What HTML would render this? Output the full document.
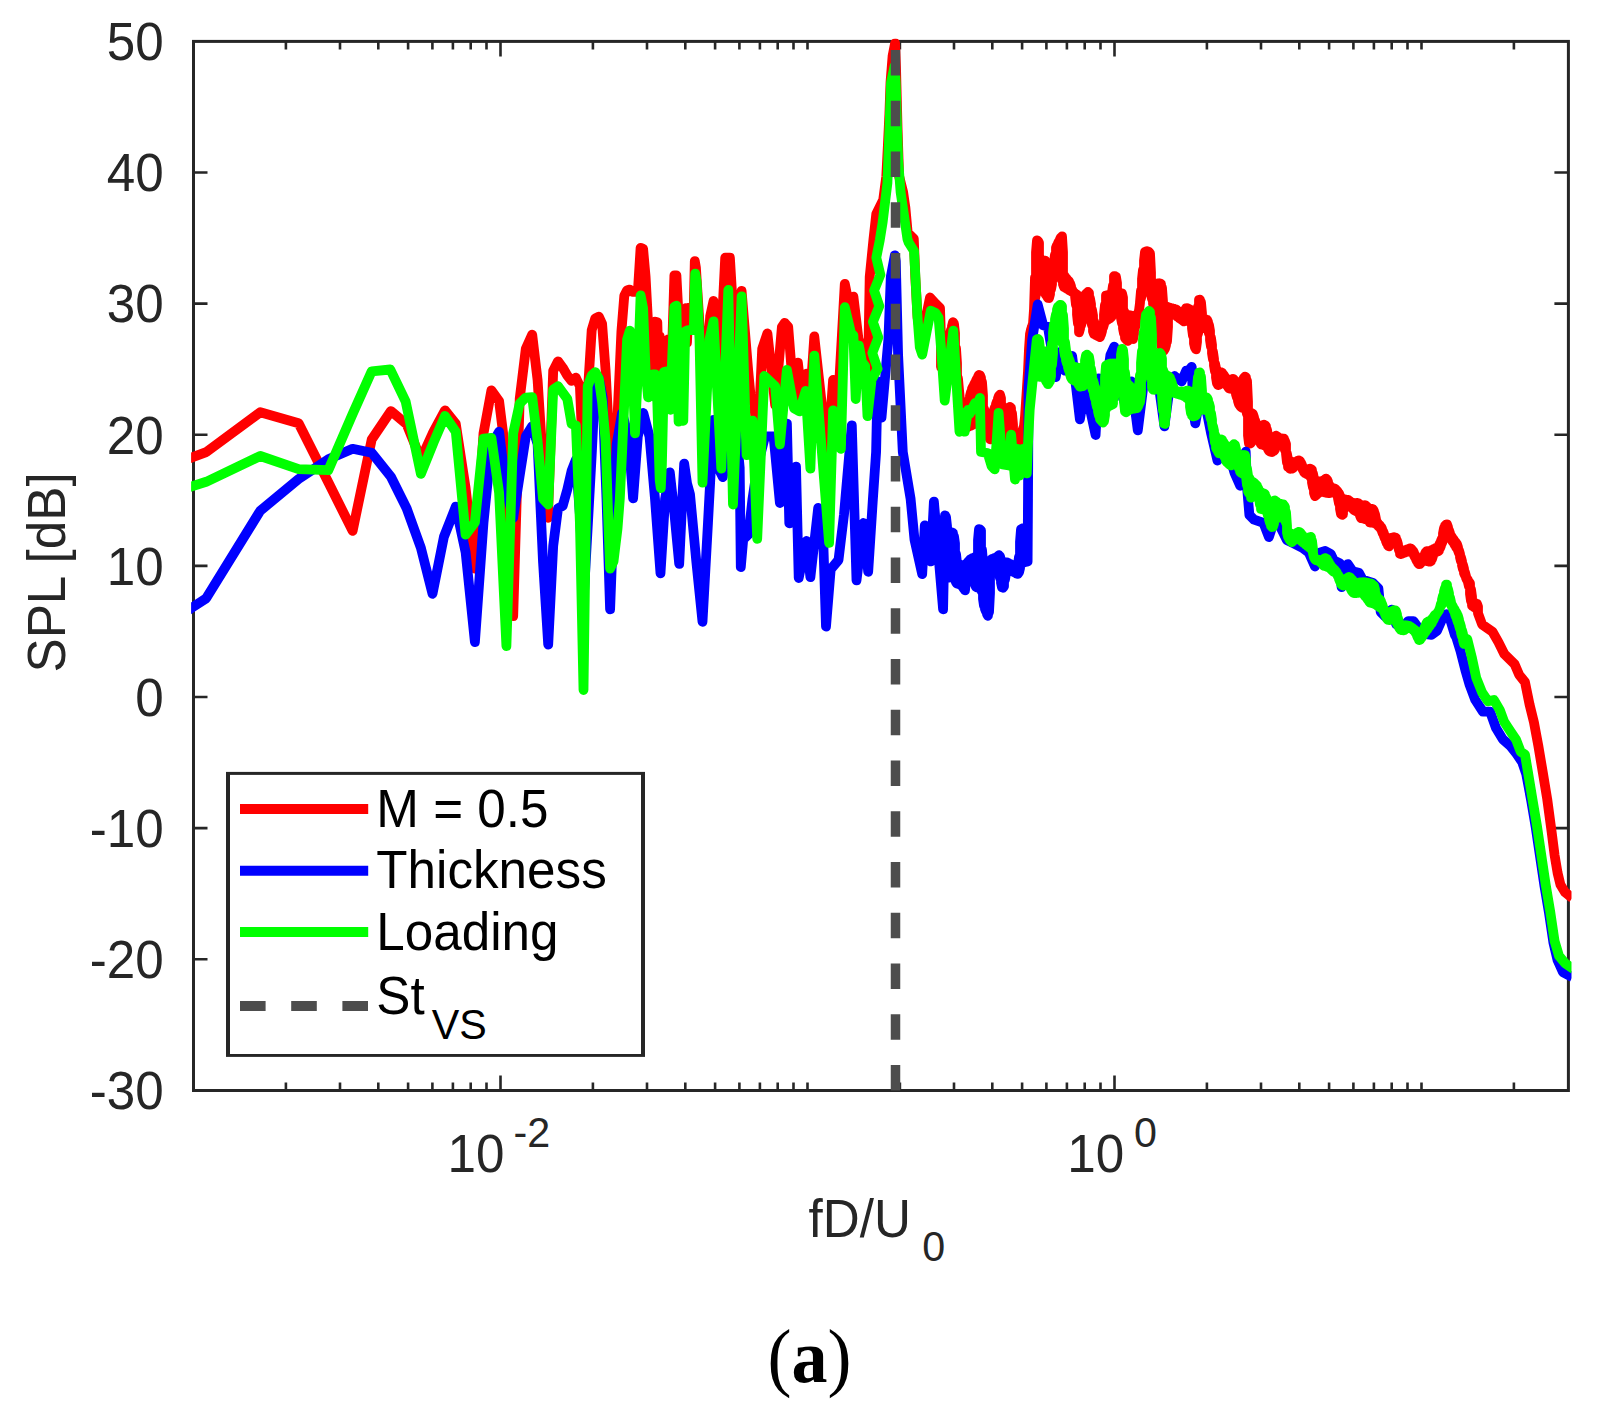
<!DOCTYPE html><html><head><meta charset="utf-8"><title>SPL spectrum</title>
<style>html,body{margin:0;padding:0;background:#fff}svg{display:block}text{font-family:"Liberation Sans",sans-serif}</style></head><body>
<svg width="1599" height="1420" viewBox="0 0 1599 1420">
<rect width="1599" height="1420" fill="#fff"/>
<clipPath id="c"><rect x="191.1" y="38.6" width="1380.4" height="1054.8999999999999"/></clipPath>
<path d="M285.9,1090.5 v-8 M285.9,41.4 v8 M340.0,1090.5 v-8 M340.0,41.4 v8 M378.3,1090.5 v-8 M378.3,41.4 v8 M408.1,1090.5 v-8 M408.1,41.4 v8 M432.4,1090.5 v-8 M432.4,41.4 v8 M452.9,1090.5 v-8 M452.9,41.4 v8 M470.7,1090.5 v-8 M470.7,41.4 v8 M486.5,1090.5 v-8 M486.5,41.4 v8 M500.5,1090.5 v-15 M500.5,41.4 v15 M592.9,1090.5 v-8 M592.9,41.4 v8 M647.0,1090.5 v-8 M647.0,41.4 v8 M685.3,1090.5 v-8 M685.3,41.4 v8 M715.1,1090.5 v-8 M715.1,41.4 v8 M739.4,1090.5 v-8 M739.4,41.4 v8 M759.9,1090.5 v-8 M759.9,41.4 v8 M777.7,1090.5 v-8 M777.7,41.4 v8 M793.5,1090.5 v-8 M793.5,41.4 v8 M807.5,1090.5 v-8 M807.5,41.4 v8 M899.9,1090.5 v-8 M899.9,41.4 v8 M954.0,1090.5 v-8 M954.0,41.4 v8 M992.3,1090.5 v-8 M992.3,41.4 v8 M1022.1,1090.5 v-8 M1022.1,41.4 v8 M1046.4,1090.5 v-8 M1046.4,41.4 v8 M1066.9,1090.5 v-8 M1066.9,41.4 v8 M1084.7,1090.5 v-8 M1084.7,41.4 v8 M1100.5,1090.5 v-8 M1100.5,41.4 v8 M1114.5,1090.5 v-15 M1114.5,41.4 v15 M1206.9,1090.5 v-8 M1206.9,41.4 v8 M1261.0,1090.5 v-8 M1261.0,41.4 v8 M1299.3,1090.5 v-8 M1299.3,41.4 v8 M1329.1,1090.5 v-8 M1329.1,41.4 v8 M1353.4,1090.5 v-8 M1353.4,41.4 v8 M1373.9,1090.5 v-8 M1373.9,41.4 v8 M1391.7,1090.5 v-8 M1391.7,41.4 v8 M1407.5,1090.5 v-8 M1407.5,41.4 v8 M1421.5,1090.5 v-8 M1421.5,41.4 v8 M1513.9,1090.5 v-8 M1513.9,41.4 v8 M193.5,959.3 h14 M1568.4,959.3 h-14 M193.5,828.1 h14 M1568.4,828.1 h-14 M193.5,697.0 h14 M1568.4,697.0 h-14 M193.5,565.9 h14 M1568.4,565.9 h-14 M193.5,434.7 h14 M1568.4,434.7 h-14 M193.5,303.6 h14 M1568.4,303.6 h-14 M193.5,172.5 h14 M1568.4,172.5 h-14" stroke="#262626" stroke-width="2.6" fill="none"/><rect x="193.5" y="41.4" width="1374.9" height="1049.1" fill="none" stroke="#262626" stroke-width="3"/>
<g clip-path="url(#c)" fill="none" stroke-width="9.8" stroke-linejoin="round" stroke-linecap="butt">
<path d="M113.4,486.6 L206.2,452.1 L260.3,412.2 L298.6,423.2 L328.3,482.3 L352.6,530.9 L371.7,439.6 L390.9,411.1 L406.7,424.3 L420.9,459.3 L433.4,431.9 L445.0,410.4 L455.8,423.9 L465.6,488.0 L474.9,568.6 L483.5,433.3 L491.4,390.4 L499.1,401.2 L506.4,459.8 L513.2,616.2 L519.7,398.9 L525.8,348.8 L532.2,334.6 L537.6,380.1 L543.0,464.5 L547.9,517.8 L553.2,370.7 L558.0,361.3 L562.7,367.6 L567.3,375.4 L571.6,380.9 L575.9,377.7 L579.9,386.3 L584.0,480.2 L587.7,394.2 L591.7,330.1 L595.3,318.3 L598.8,316.6 L602.1,323.8 L605.6,370.7 L608.9,433.3 L612.0,484.8 L615.3,464.5 L618.2,402.0 L621.4,331.6 L624.3,295.7 L627.1,290.2 L629.8,289.6 L632.6,291.8 L635.4,291.8 L637.9,291.0 L640.6,247.8 L643.1,248.8 L645.6,276.9 L648.1,323.8 L649.5,370.7 L650.8,330.1 L651.9,370.7 L652.8,323.8 L654.0,370.7 L655.1,321.6 L656.2,370.7 L657.3,322.2 L658.6,370.7 L659.7,336.3 L660.8,373.8 L661.9,342.6 L663.0,373.8 L664.0,343.2 L665.1,373.8 L666.2,342.6 L667.3,373.8 L668.3,339.4 L669.4,373.8 L670.3,342.6 L671.4,370.7 L672.3,342.6 L674.4,275.3 L676.4,275.3 L678.3,311.3 L680.2,314.4 L681.1,342.6 L682.0,311.3 L683.0,342.6 L683.9,309.6 L684.8,342.6 L685.8,308.2 L687.0,342.6 L688.3,308.2 L693.8,305.0 L694.8,261.1 L695.9,267.5 L699.5,323.8 L704.4,402.0 L710.2,316.0 L713.5,301.0 L720.0,362.9 L725.2,257.7 L729.9,257.7 L735.7,355.1 L741.6,290.8 L748.2,370.7 L751.0,400.4 L754.1,401.0 L757.5,448.9 L762.2,348.8 L767.4,333.3 L775.2,405.1 L781.9,326.9 L784.6,322.9 L788.2,326.9 L794.4,405.1 L797.9,362.7 L801.9,398.9 L806.5,373.7 L810.1,398.9 L814.3,336.5 L827.6,456.7 L833.1,379.9 L837.7,409.8 L844.8,283.8 L850.3,311.3 L853.4,296.6 L858.5,339.4 L862.0,346.3 L866.0,355.1 L867.8,386.3 L869.7,276.9 L873.5,238.9 L876.3,213.9 L883.2,199.8 L886.3,176.3 L887.9,145.1 L889.4,113.8 L890.5,82.5 L892.6,56.0 L895.1,43.3 L896.0,66.9 L897.6,129.4 L899.1,176.3 L903.1,192.0 L905.4,207.6 L907.7,232.6 L913.8,238.7 L915.3,276.9 L917.6,317.6 L921.4,339.4 L930.0,297.5 L935.5,303.5 L940.0,308.0 L941.0,338.4 L941.0,367.0 L942.0,367.5 L942.0,340.6 L943.0,341.5 L943.0,368.4 L944.0,370.9 L944.0,341.9 L945.0,342.0 L945.0,374.2 L946.0,375.2 L946.0,341.9 L947.0,341.5 L947.0,373.2 L948.0,371.2 L948.0,340.6 L949.0,337.8 L949.0,369.2 L950.0,367.9 L950.0,333.9 L951.0,330.0 L951.0,367.2 L952.0,367.0 L952.0,326.1 L953.0,322.2 L953.0,367.0 L954.0,367.2 L954.0,324.0 L955.0,333.2 L955.0,367.9 L956.0,369.2 L956.0,348.3 L957.0,363.4 L957.0,374.9 L958.0,380.6 L958.0,378.6 L959.0,390.0 L960.0,400.0 L961.0,403.6 L962.0,406.7 L963.0,409.7 L964.0,414.9 L964.0,410.2 L965.0,410.0 L965.0,420.6 L966.0,426.3 L966.0,409.3 L967.0,408.0 L967.0,427.4 L968.0,426.9 L968.0,404.0 L969.0,400.0 L969.0,426.4 L970.0,425.9 L970.0,396.0 L971.0,392.0 L971.0,425.5 L972.0,425.0 L972.0,388.7 L973.0,386.7 L973.0,424.5 L974.0,424.0 L974.0,384.7 L975.0,382.8 L975.0,423.5 L976.0,423.1 L976.0,380.8 L977.0,378.8 L977.0,422.6 L978.0,422.1 L978.0,376.8 L979.0,374.9 L979.0,421.8 L980.0,421.8 L980.0,375.4 L981.0,377.9 L981.0,422.1 L982.0,422.5 L982.0,382.1 L983.0,395.5 L983.0,423.4 L984.0,425.4 L984.0,408.8 L985.0,412.1 L985.0,427.7 L986.0,430.0 L986.0,413.0 L987.0,413.5 L987.0,432.3 L988.0,434.6 L988.0,413.6 L989.0,413.6 L989.0,437.0 L990.0,439.3 L990.0,413.6 L991.0,413.5 L991.0,439.3 L992.0,437.5 L992.0,413.0 L993.0,412.1 L993.0,435.6 L994.0,433.8 L994.0,409.9 L995.0,407.1 L995.0,432.0 L996.0,430.6 L996.0,404.2 L997.0,401.3 L997.0,430.0 L998.0,429.7 L998.0,398.4 L999.0,395.6 L999.0,429.7 L1000.0,430.0 L1000.0,394.7 L1001.0,398.4 L1001.0,430.5 L1002.0,431.4 L1002.0,405.4 L1003.0,407.3 L1003.0,432.6 L1004.0,433.9 L1004.0,408.1 L1005.0,408.6 L1005.0,435.1 L1006.0,436.4 L1006.0,408.7 L1007.0,408.6 L1007.0,437.6 L1008.0,438.9 L1008.0,408.1 L1009.0,407.6 L1009.0,440.1 L1010.0,441.4 L1010.0,407.0 L1011.0,407.7 L1011.0,442.6 L1012.0,443.9 L1012.0,413.3 L1013.0,424.6 L1013.0,445.1 L1014.0,446.4 L1014.0,434.7 L1015.0,436.1 L1015.0,447.3 L1016.0,448.2 L1016.0,436.7 L1017.0,437.0 L1017.0,449.1 L1018.0,446.4 L1018.0,437.1 L1019.0,437.1 L1019.0,441.4 L1020.0,436.7 L1021.0,434.2 L1022.0,431.7 L1023.0,428.9 L1024.0,426.0 L1025.0,416.9 L1026.0,401.9 L1027.0,386.9 L1028.0,371.3 L1029.0,348.8 L1030.0,334.0 L1031.0,329.6 L1032.0,326.7 L1033.0,323.5 L1034.0,309.4 L1035.0,277.5 L1035.0,298.9 L1036.0,293.9 L1036.0,252.5 L1037.0,240.3 L1037.0,290.5 L1038.0,289.6 L1038.0,240.8 L1039.0,242.9 L1039.0,289.2 L1040.0,289.1 L1040.0,258.1 L1041.0,259.5 L1041.0,289.2 L1042.0,289.6 L1042.0,260.1 L1043.0,260.4 L1043.0,290.4 L1044.0,291.7 L1044.0,260.6 L1045.0,260.7 L1045.0,293.2 L1046.0,294.8 L1046.0,262.1 L1047.0,263.9 L1047.0,296.3 L1048.0,297.9 L1048.0,264.8 L1049.0,265.3 L1049.0,298.0 L1050.0,294.2 L1050.0,265.4 L1051.0,265.3 L1051.0,289.2 L1052.0,284.2 L1052.0,264.8 L1053.0,263.9 L1053.0,279.2 L1054.0,275.9 L1054.0,261.6 L1055.0,254.6 L1055.0,275.0 L1056.0,274.4 L1056.0,247.6 L1057.0,245.3 L1057.0,274.1 L1058.0,274.1 L1058.0,243.3 L1059.0,241.3 L1059.0,274.4 L1060.0,275.0 L1060.0,239.3 L1061.0,237.3 L1061.0,276.4 L1062.0,280.4 L1062.0,236.4 L1063.0,252.2 L1063.0,284.4 L1064.0,287.1 L1064.0,275.3 L1065.0,276.8 L1065.0,287.7 L1066.0,288.2 L1066.0,277.9 L1067.0,279.1 L1067.0,288.8 L1068.0,289.4 L1068.0,280.2 L1069.0,281.3 L1069.0,290.0 L1070.0,290.5 L1070.0,283.3 L1071.0,286.3 L1071.0,291.1 L1072.0,291.7 L1072.0,289.3 L1073.0,291.7 L1073.0,292.2 L1074.0,293.1 L1074.0,292.6 L1075.0,293.3 L1075.0,295.8 L1076.0,305.1 L1076.0,294.1 L1077.0,294.8 L1077.0,314.4 L1078.0,323.8 L1078.0,295.5 L1079.0,296.2 L1079.0,332.3 L1080.0,328.9 L1080.0,296.8 L1081.0,297.1 L1081.0,325.4 L1082.0,321.9 L1082.0,297.1 L1083.0,296.8 L1083.0,317.9 L1084.0,315.4 L1084.0,296.2 L1085.0,295.1 L1085.0,314.5 L1086.0,314.1 L1086.0,294.0 L1087.0,292.8 L1087.0,314.0 L1088.0,314.1 L1088.0,291.9 L1089.0,292.9 L1089.0,314.5 L1090.0,315.4 L1090.0,298.5 L1091.0,304.2 L1091.0,319.3 L1092.0,325.3 L1092.0,309.9 L1093.0,315.7 L1093.0,331.3 L1094.0,334.0 L1094.0,321.4 L1095.0,324.6 L1095.0,334.5 L1096.0,335.0 L1096.0,325.5 L1097.0,326.0 L1097.0,335.5 L1098.0,336.0 L1098.0,326.5 L1099.0,326.6 L1099.0,336.5 L1100.0,337.0 L1100.0,326.5 L1101.0,326.3 L1101.0,334.6 L1102.0,331.2 L1102.0,325.6 L1103.0,324.3 L1103.0,327.7 L1104.0,324.3 L1104.0,314.5 L1105.0,304.8 L1105.0,321.7 L1106.0,320.7 L1106.0,295.6 L1107.0,295.4 L1107.0,320.0 L1108.0,319.5 L1108.0,295.1 L1109.0,294.9 L1109.0,318.9 L1110.0,318.3 L1110.0,294.6 L1111.0,293.9 L1111.0,317.5 L1112.0,315.8 L1112.0,292.5 L1113.0,285.4 L1113.0,314.0 L1114.0,312.7 L1114.0,276.1 L1115.0,276.1 L1115.0,312.0 L1116.0,311.7 L1116.0,277.0 L1117.0,283.1 L1117.0,311.7 L1118.0,312.0 L1118.0,290.9 L1119.0,292.3 L1119.0,312.7 L1120.0,314.0 L1120.0,292.9 L1121.0,293.2 L1121.0,318.0 L1122.0,323.2 L1122.0,293.4 L1123.0,297.7 L1123.0,328.3 L1124.0,333.5 L1124.0,311.2 L1125.0,313.6 L1125.0,337.9 L1126.0,339.2 L1126.0,314.5 L1127.0,315.0 L1127.0,340.4 L1128.0,340.9 L1128.0,315.1 L1129.0,315.1 L1129.0,339.7 L1130.0,339.1 L1130.0,315.3 L1131.0,315.5 L1131.0,338.8 L1132.0,338.8 L1132.0,315.8 L1133.0,316.1 L1133.0,339.1 L1134.0,334.1 L1134.0,316.4 L1135.0,316.5 L1135.0,327.7 L1136.0,321.6 L1136.0,316.4 L1137.0,316.0 L1137.0,316.9 L1138.0,313.7 L1139.0,310.6 L1140.0,302.9 L1140.0,302.1 L1141.0,290.6 L1141.0,298.3 L1142.0,293.6 L1142.0,279.1 L1143.0,269.9 L1143.0,290.0 L1144.0,288.7 L1144.0,260.9 L1145.0,251.9 L1145.0,288.0 L1146.0,287.8 L1146.0,251.4 L1147.0,251.1 L1147.0,287.8 L1148.0,288.0 L1148.0,251.4 L1149.0,252.0 L1149.0,288.7 L1150.0,290.0 L1150.0,253.4 L1151.0,272.4 L1151.0,294.5 L1152.0,299.0 L1152.0,282.4 L1153.0,283.3 L1153.0,303.5 L1154.0,308.0 L1154.0,283.7 L1155.0,283.8 L1155.0,312.4 L1156.0,316.9 L1156.0,283.7 L1157.0,283.6 L1157.0,321.3 L1158.0,325.8 L1158.0,283.4 L1159.0,283.3 L1159.0,330.2 L1160.0,334.7 L1160.0,283.3 L1161.0,283.8 L1161.0,341.2 L1162.0,347.9 L1162.0,287.9 L1163.0,301.4 L1163.0,350.0 L1164.0,350.6 L1164.0,305.1 L1165.0,306.0 L1165.0,348.7 L1166.0,345.1 L1166.0,306.5 L1167.0,306.8 L1167.0,341.5 L1168.0,326.9 L1168.0,307.1 L1169.0,307.5 L1169.0,316.3 L1170.0,314.9 L1170.0,307.8 L1171.0,308.1 L1171.0,314.3 L1172.0,314.0 L1172.0,308.3 L1173.0,308.6 L1173.0,314.0 L1174.0,314.3 L1174.0,308.8 L1175.0,309.1 L1175.0,314.9 L1176.0,315.6 L1176.0,309.4 L1177.0,310.2 L1177.0,316.4 L1178.0,317.1 L1178.0,311.0 L1179.0,311.8 L1179.0,317.8 L1180.0,318.6 L1180.0,312.4 L1181.0,312.7 L1181.0,319.3 L1182.0,320.0 L1182.0,312.7 L1183.0,312.4 L1183.0,320.7 L1184.0,321.4 L1184.0,311.9 L1186.0,308.3 L1186.0,320.9 L1187.0,320.9 L1187.0,308.1 L1188.0,308.5 L1188.0,321.0 L1189.0,321.2 L1189.0,308.9 L1190.0,309.6 L1190.0,321.9 L1191.0,323.2 L1191.0,310.6 L1192.0,311.5 L1192.0,328.4 L1193.0,335.9 L1193.0,311.9 L1194.0,312.0 L1194.0,343.4 L1195.0,347.7 L1195.0,311.9 L1196.0,311.5 L1196.0,349.3 L1197.0,341.8 L1197.0,310.6 L1198.0,306.8 L1198.0,333.5 L1199.0,329.4 L1199.0,299.8 L1200.0,299.7 L1200.0,328.5 L1201.0,328.1 L1201.0,302.5 L1202.0,313.5 L1202.0,328.0 L1203.0,328.0 L1203.0,317.7 L1204.0,318.6 L1204.0,328.0 L1205.0,328.0 L1205.0,319.1 L1206.0,319.4 L1206.0,328.1 L1207.0,328.5 L1207.0,319.7 L1208.0,321.8 L1208.0,329.4 L1209.0,333.5 L1209.0,325.1 L1210.0,330.9 L1210.0,340.1 L1211.0,346.7 L1211.0,337.9 L1212.0,344.9 L1212.0,353.3 L1213.0,359.5 L1213.0,351.9 L1214.0,358.9 L1214.0,365.5 L1215.0,371.5 L1215.0,363.6 L1216.0,368.3 L1216.0,377.5 L1217.0,383.5 L1217.0,370.8 L1218.0,371.7 L1218.0,385.0 L1219.0,384.7 L1219.0,372.2 L1220.0,372.3 L1220.0,384.0 L1221.0,383.3 L1221.0,372.3 L1222.0,372.6 L1222.0,382.8 L1223.0,382.7 L1223.0,374.0 L1224.0,375.4 L1224.0,382.8 L1225.0,383.3 L1225.0,376.9 L1226.0,378.3 L1226.0,384.2 L1227.0,385.6 L1227.0,379.2 L1228.0,379.7 L1228.0,387.0 L1229.0,388.4 L1229.0,380.0 L1230.0,380.0 L1230.0,388.6 L1231.0,388.8 L1231.0,379.7 L1232.0,379.3 L1232.0,389.0 L1233.0,389.2 L1233.0,378.8 L1234.0,379.5 L1234.0,389.9 L1235.0,391.2 L1235.0,380.9 L1236.0,382.1 L1236.0,394.3 L1237.0,397.7 L1237.0,382.8 L1238.0,383.0 L1238.0,401.1 L1239.0,404.4 L1239.0,383.0 L1240.0,382.8 L1240.0,405.7 L1241.0,407.0 L1241.0,382.1 L1242.0,381.1 L1242.0,407.9 L1243.0,407.8 L1243.0,379.4 L1244.0,377.7 L1244.0,407.9 L1245.0,408.3 L1245.0,376.6 L1246.0,377.4 L1246.0,409.2 L1247.0,413.9 L1247.0,380.8 L1248.0,401.8 L1248.0,435.4 L1249.0,443.6 L1249.0,411.5 L1250.0,412.4 L1250.0,443.7 L1251.0,442.9 L1251.0,412.9 L1252.0,413.3 L1252.0,441.2 L1253.0,439.8 L1253.0,414.2 L1254.0,417.2 L1254.0,439.1 L1255.0,438.7 L1255.0,420.2 L1256.0,423.2 L1256.0,438.6 L1257.0,438.7 L1257.0,424.6 L1258.0,425.5 L1258.0,439.2 L1259.0,440.0 L1259.0,426.0 L1260.0,426.1 L1260.0,442.1 L1261.0,444.3 L1261.0,426.0 L1262.0,425.6 L1262.0,444.6 L1263.0,444.9 L1263.0,425.1 L1264.0,424.6 L1264.0,445.2 L1265.0,445.5 L1265.0,425.1 L1266.0,426.2 L1266.0,446.1 L1267.0,447.3 L1267.0,429.9 L1268.0,435.6 L1268.0,449.0 L1269.0,450.8 L1269.0,437.0 L1270.0,437.6 L1270.0,451.6 L1271.0,451.9 L1271.0,437.9 L1272.0,437.9 L1272.0,452.0 L1273.0,451.4 L1273.0,437.6 L1274.0,437.0 L1274.0,450.8 L1275.0,449.4 L1275.0,436.4 L1276.0,435.7 L1276.0,446.7 L1277.0,444.5 L1277.0,436.3 L1278.0,437.0 L1278.0,443.6 L1279.0,443.2 L1279.0,437.7 L1280.0,438.3 L1280.0,443.0 L1281.0,443.2 L1281.0,438.6 L1282.0,438.7 L1282.0,443.6 L1283.0,444.5 L1283.0,438.6 L1284.0,438.6 L1284.0,446.7 L1285.0,450.0 L1285.0,441.1 L1286.0,444.0 L1286.0,453.8 L1287.0,462.8 L1287.0,454.0 L1288.0,459.9 L1288.0,467.0 L1290.0,461.0 L1290.0,468.8 L1291.0,468.7 L1291.0,461.5 L1292.0,462.0 L1292.0,468.6 L1293.0,468.1 L1293.0,462.4 L1294.0,462.5 L1294.0,466.9 L1295.0,465.7 L1295.0,462.4 L1296.0,462.0 L1296.0,465.1 L1297.0,464.8 L1297.0,461.3 L1298.0,460.6 L1298.0,464.6 L1299.0,464.8 L1299.0,460.4 L1300.0,461.1 L1300.0,465.2 L1301.0,466.1 L1301.0,462.9 L1302.0,465.1 L1302.0,468.0 L1303.0,470.0 L1303.0,467.3 L1304.0,468.6 L1304.0,472.0 L1305.0,473.2 L1305.0,469.3 L1306.0,469.5 L1306.0,473.6 L1307.0,474.1 L1307.0,469.5 L1308.0,469.3 L1308.0,474.5 L1309.0,475.0 L1309.0,468.9 L1310.0,468.6 L1310.0,475.9 L1311.0,478.0 L1311.0,469.1 L1312.0,469.9 L1312.0,482.5 L1313.0,487.6 L1313.0,473.7 L1314.0,479.0 L1314.0,493.0 L1315.0,496.1 L1315.0,480.4 L1316.0,481.0 L1316.0,495.4 L1317.0,494.4 L1317.0,481.3 L1318.0,481.3 L1318.0,493.4 L1319.0,492.6 L1319.0,481.3 L1320.0,481.3 L1320.0,492.1 L1321.0,491.8 L1321.0,481.3 L1322.0,481.2 L1322.0,491.8 L1323.0,492.0 L1323.0,480.8 L1324.0,480.2 L1324.0,492.2 L1325.0,492.4 L1325.0,479.4 L1326.0,478.6 L1326.0,492.7 L1327.0,492.9 L1327.0,479.4 L1328.0,481.5 L1328.0,493.1 L1329.0,493.1 L1329.0,484.5 L1330.0,486.8 L1330.0,493.0 L1331.0,492.8 L1331.0,487.7 L1332.0,488.1 L1332.0,492.7 L1333.0,492.6 L1333.0,488.4 L1334.0,488.6 L1334.0,492.6 L1335.0,492.8 L1335.0,488.7 L1336.0,489.4 L1336.0,493.5 L1337.0,494.8 L1337.0,490.7 L1338.0,492.1 L1338.0,498.4 L1339.0,503.6 L1339.0,493.4 L1340.0,495.8 L1340.0,508.8 L1341.0,514.0 L1341.0,497.8 L1342.0,498.7 L1342.0,514.9 L1343.0,514.2 L1343.0,499.2 L1344.0,499.3 L1344.0,509.2 L1345.0,506.6 L1345.0,499.5 L1346.0,499.6 L1346.0,505.7 L1347.0,505.3 L1347.0,499.8 L1348.0,499.9 L1348.0,505.1 L1349.0,505.3 L1349.0,500.6 L1350.0,501.2 L1350.0,505.7 L1351.0,506.6 L1351.0,501.9 L1352.0,502.6 L1352.0,507.9 L1353.0,509.1 L1353.0,503.0 L1354.0,503.2 L1354.0,510.0 L1355.0,510.5 L1355.0,503.2 L1356.0,503.1 L1356.0,511.0 L1357.0,511.5 L1357.0,503.0 L1358.0,503.1 L1358.0,512.1 L1359.0,513.5 L1359.0,503.8 L1360.0,504.5 L1360.0,515.7 L1361.0,518.1 L1361.0,505.1 L1362.0,505.4 L1362.0,518.3 L1363.0,518.5 L1363.0,505.5 L1364.0,505.4 L1364.0,518.7 L1365.0,519.0 L1365.0,505.2 L1366.0,505.7 L1366.0,519.2 L1367.0,519.6 L1367.0,506.7 L1368.0,507.7 L1368.0,520.4 L1369.0,521.4 L1369.0,508.3 L1370.0,508.6 L1370.0,522.4 L1371.0,522.6 L1371.0,508.8 L1372.0,508.9 L1372.0,522.7 L1373.0,522.8 L1373.0,509.1 L1374.0,511.1 L1374.0,523.0 L1375.0,523.3 L1375.0,514.1 L1376.0,519.1 L1376.0,523.9 L1377.0,524.7 L1377.0,522.1 L1378.0,523.3 L1378.0,525.7 L1379.0,526.7 L1379.0,524.5 L1380.0,525.6 L1380.0,527.7 L1381.0,529.1 L1381.0,526.8 L1382.0,528.8 L1382.0,531.4 L1383.0,533.9 L1383.0,531.2 L1384.0,533.6 L1384.0,536.3 L1385.0,538.8 L1385.0,536.0 L1386.0,537.4 L1386.0,541.2 L1387.0,543.7 L1387.0,538.0 L1388.0,538.3 L1388.0,545.8 L1389.0,546.4 L1389.0,538.3 L1390.0,538.1 L1390.0,544.8 L1391.0,542.4 L1391.0,537.9 L1392.0,537.6 L1392.0,541.5 L1393.0,541.1 L1393.0,537.4 L1394.0,537.1 L1394.0,541.0 L1395.0,541.1 L1395.0,537.4 L1396.0,537.9 L1396.0,541.5 L1397.0,542.4 L1397.0,540.7 L1398.0,544.4 L1398.0,545.6 L1399.0,550.3 L1399.0,548.2 L1400.0,549.6 L1400.0,553.7 L1401.0,554.0 L1401.0,550.2 L1402.0,550.6 L1402.0,553.6 L1403.0,553.2 L1403.0,550.8 L1404.0,550.6 L1404.0,552.8 L1405.0,552.5 L1405.0,550.3 L1406.0,549.9 L1406.0,552.1 L1407.0,551.8 L1407.0,549.5 L1408.0,549.2 L1408.0,551.5 L1409.0,551.2 L1409.0,548.8 L1410.0,548.4 L1410.0,551.2 L1411.0,551.5 L1411.0,548.7 L1412.0,549.6 L1412.0,552.1 L1413.0,553.3 L1413.0,550.6 L1414.0,552.6 L1414.0,555.2 L1415.0,557.2 L1415.0,554.6 L1416.0,556.6 L1416.0,559.2 L1417.0,561.2 L1417.0,558.0 L1418.0,558.6 L1418.0,563.2 L1419.0,564.1 L1419.0,559.0 L1420.0,559.1 L1420.0,564.0 L1421.0,562.7 L1421.0,559.0 L1422.0,558.5 L1422.0,561.4 L1423.0,560.8 L1423.0,557.6 L1424.0,555.8 L1424.0,560.5 L1425.0,560.5 L1425.0,553.8 L1426.0,551.8 L1426.0,560.8 L1427.0,561.1 L1427.0,551.2 L1428.0,551.1 L1428.0,561.3 L1429.0,561.6 L1429.0,551.0 L1430.0,550.8 L1430.0,561.6 L1431.0,561.1 L1431.0,550.4 L1432.0,549.9 L1432.0,559.2 L1433.0,555.9 L1433.0,549.4 L1434.0,548.9 L1434.0,553.4 L1435.0,552.5 L1435.0,548.4 L1436.0,547.9 L1436.0,552.0 L1437.0,551.7 L1437.0,547.4 L1438.0,546.7 L1438.0,551.4 L1439.0,550.6 L1439.0,545.3 L1440.0,543.1 L1440.0,548.1 L1441.0,545.6 L1441.0,540.8 L1442.0,538.6 L1442.0,543.0 L1443.0,540.3 L1443.0,533.4 L1444.0,528.1 L1444.0,538.2 L1445.0,537.3 L1445.0,525.7 L1446.0,524.7 L1446.0,536.8 L1447.0,536.7 L1447.0,524.3 L1448.0,527.2 L1448.0,536.8 L1449.0,537.1 L1449.0,530.2 L1450.0,533.2 L1450.0,537.7 L1451.0,539.0 L1451.0,535.7 L1452.0,537.2 L1452.0,540.5 L1453.0,542.0 L1453.0,538.6 L1454.0,540.0 L1454.0,543.6 L1455.0,545.3 L1455.0,541.4 L1456.0,542.7 L1456.0,546.9 L1457.0,548.6 L1457.0,544.1 L1458.0,547.3 L1458.0,550.3 L1459.0,553.2 L1459.0,550.5 L1460.0,553.8 L1460.0,557.2 L1461.0,561.2 L1461.0,557.5 L1462.0,561.3 L1462.0,565.2 L1463.0,569.2 L1463.0,565.0 L1464.0,568.8 L1464.0,573.1 L1465.0,575.4 L1465.0,572.5 L1466.0,576.3 L1466.0,577.8 L1467.0,580.1 L1467.0,578.6 L1468.0,580.2 L1468.0,582.4 L1469.0,586.5 L1469.0,581.8 L1470.0,583.4 L1470.0,593.8 L1471.0,601.0 L1471.0,589.3 L1472.0,596.7 L1472.0,605.8 L1473.0,606.4 L1473.0,601.2 L1474.0,602.5 L1474.0,607.0 L1475.0,607.5 L1475.0,603.1 L1476.0,603.4 L1476.0,608.2 L1477.0,609.6 L1477.0,603.8 L1478.0,606.6 L1478.0,613.3 L1482.1,624.4 L1492.5,631.8 L1498.4,642.1 L1504.3,654.0 L1514.7,664.3 L1519.1,674.7 L1525.0,682.1 L1529.5,704.3 L1533.9,722.1 L1538.3,745.7 L1542.8,772.4 L1547.2,799.0 L1551.6,831.6 L1554.6,855.2 L1557.6,873.0 L1560.5,884.8 L1565.0,892.2 L1572.4,898.1" stroke="#f00"/>
<path d="M113.4,659.1 L192.2,607.5 L206.2,598.3 L260.3,510.7 L298.6,479.0 L328.3,459.3 L352.6,448.8 L371.7,452.7 L390.9,476.8 L406.7,508.5 L420.9,547.9 L432.5,593.9 L443.9,536.9 L455.8,506.6 L465.6,552.1 L474.9,642.1 L483.5,522.4 L491.4,445.0 L499.1,431.7 L506.4,491.1 L513.2,517.7 L519.7,475.5 L525.8,436.4 L532.2,426.2 L537.6,444.2 L543.0,561.4 L548.2,644.5 L553.2,545.8 L558.0,508.3 L562.7,505.9 L567.3,489.5 L571.6,470.8 L575.9,459.8 L579.9,514.5 L584.0,592.7 L587.7,527.0 L591.7,455.1 L595.3,381.6 L598.8,378.5 L602.6,397.3 L606.5,498.9 L610.1,609.3 L614.3,498.9 L616.7,444.2 L622.1,412.9 L628.4,436.4 L633.1,498.3 L637.8,436.4 L643.3,412.9 L649.5,436.4 L655.0,498.9 L660.5,573.3 L665.1,498.9 L669.8,472.3 L674.5,514.5 L679.2,563.9 L682.3,498.9 L684.2,463.6 L687.0,483.3 L690.0,494.2 L696.3,561.4 L702.5,621.8 L708.0,522.4 L713.5,419.8 L718.1,467.6 L722.8,477.2 L729.1,428.5 L735.3,420.7 L739.7,467.6 L740.8,567.1 L743.2,539.6 L748.6,534.2 L752.5,498.9 L757.2,467.6 L765.0,436.4 L773.6,436.4 L779.9,503.0 L783.8,452.0 L786.9,423.7 L789.3,523.3 L796.0,466.7 L798.7,578.0 L806.5,541.0 L810.4,577.2 L818.2,507.8 L822.9,530.2 L826.0,626.5 L830.7,569.3 L838.5,560.0 L844.0,514.5 L851.8,425.3 L856.5,580.4 L863.5,523.0 L868.2,571.8 L872.9,498.9 L876.1,452.0 L877.6,381.5 L881.5,417.6 L888.4,339.4 L890.8,276.9 L894.8,255.3 L895.8,261.3 L898.1,355.1 L902.8,452.0 L910.6,498.9 L914.5,539.6 L922.2,574.1 L924.8,525.3 L930.8,561.4 L933.9,501.6 L943.1,609.3 L945.0,515.3 L945.0,578.2 L946.0,578.0 L946.0,517.1 L947.0,526.1 L947.0,577.8 L948.0,577.7 L948.0,530.9 L949.0,531.8 L949.0,577.5 L950.0,577.4 L950.0,532.3 L951.0,532.4 L951.0,577.3 L952.0,577.3 L952.0,532.4 L953.0,533.0 L953.0,577.5 L954.0,578.2 L954.0,536.3 L955.0,543.5 L955.0,579.5 L956.0,582.2 L956.0,554.1 L957.0,562.9 L957.0,583.6 L958.0,583.9 L958.0,564.3 L959.0,564.9 L959.0,584.1 L960.0,584.5 L960.0,565.2 L961.0,565.2 L961.0,585.1 L962.0,586.0 L962.0,565.2 L963.0,565.2 L963.0,587.5 L964.0,588.9 L964.0,565.2 L965.0,564.9 L965.0,590.3 L966.0,578.6 L966.0,564.2 L967.0,563.1 L967.0,574.9 L968.0,574.0 L968.0,562.0 L969.0,560.8 L969.0,573.6 L970.0,573.5 L970.0,559.6 L971.0,558.9 L971.0,573.6 L972.0,574.0 L972.0,558.5 L973.0,558.0 L973.0,574.9 L974.0,578.8 L974.0,557.6 L975.0,557.2 L975.0,584.8 L976.0,587.0 L976.0,556.5 L977.0,555.2 L977.0,587.4 L978.0,587.8 L978.0,540.1 L979.0,529.1 L979.0,588.1 L980.0,588.6 L980.0,529.4 L981.0,530.4 L981.0,589.5 L982.0,591.8 L982.0,549.8 L983.0,562.0 L983.0,598.8 L984.0,605.8 L984.0,563.4 L985.0,564.1 L985.0,609.0 L986.0,611.5 L986.0,564.3 L987.0,564.3 L987.0,614.0 L988.0,615.8 L988.0,564.1 L989.0,563.4 L989.0,612.3 L990.0,593.0 L990.0,562.0 L991.0,559.7 L991.0,573.6 L992.0,569.8 L992.0,558.9 L993.0,558.6 L993.0,568.9 L994.0,568.5 L994.0,558.3 L995.0,558.0 L995.0,568.4 L996.0,568.5 L996.0,557.6 L997.0,556.8 L997.0,568.9 L998.0,569.8 L998.0,555.9 L999.0,555.2 L999.0,573.1 L1000.0,577.9 L1000.0,556.4 L1001.0,560.7 L1001.0,582.7 L1002.0,587.4 L1002.0,561.9 L1003.0,562.5 L1003.0,587.8 L1004.0,586.3 L1004.0,562.8 L1005.0,562.8 L1005.0,579.6 L1006.0,573.0 L1006.0,562.5 L1007.0,562.4 L1007.0,571.6 L1008.0,571.0 L1008.0,562.9 L1009.0,563.4 L1009.0,570.5 L1010.0,570.4 L1010.0,563.9 L1011.0,564.4 L1011.0,570.5 L1012.0,571.0 L1012.0,564.9 L1013.0,565.4 L1013.0,571.5 L1014.0,572.0 L1014.0,565.9 L1015.0,566.0 L1015.0,572.6 L1016.0,573.1 L1016.0,565.9 L1017.0,565.4 L1017.0,573.7 L1018.0,573.9 L1018.0,564.5 L1019.0,556.9 L1019.0,572.4 L1020.0,568.4 L1020.0,541.9 L1021.0,529.3 L1021.0,564.7 L1022.0,563.3 L1022.0,528.7 L1023.0,528.1 L1023.0,562.6 L1027.6,561.4 L1028.0,498.9 L1028.6,386.3 L1032.2,339.4 L1037.7,304.4 L1043.2,325.4 L1047.9,326.8 L1052.6,355.1 L1055.7,377.1 L1060.4,351.8 L1065.1,370.7 L1072.1,355.9 L1076.0,386.3 L1079.9,419.3 L1085.4,386.3 L1088.5,402.0 L1095.6,435.0 L1098.7,378.4 L1104.2,402.0 L1110.4,355.1 L1114.3,346.6 L1118.2,386.3 L1124.5,402.0 L1131.5,381.5 L1137.8,430.3 L1143.3,386.3 L1151.1,378.5 L1158.9,386.3 L1164.4,426.4 L1169.8,386.3 L1174.5,376.0 L1181.6,381.5 L1186.2,370.6 L1186.3,374.8 L1191.7,366.8 L1193.3,410.7 L1195.3,423.4 L1200.3,395.1 L1206.6,410.7 L1211.3,434.2 L1217.5,460.6 L1223.8,449.8 L1230.0,457.6 L1234.7,473.3 L1240.2,485.8 L1245.7,451.7 L1247.0,486.9 L1249.4,515.0 L1254.1,519.7 L1263.5,522.9 L1268.9,537.1 L1276.0,515.0 L1280.7,527.6 L1286.9,540.1 L1293.2,543.2 L1302.5,547.9 L1308.8,552.6 L1315.0,566.5 L1319.7,552.6 L1325.2,550.9 L1330.7,554.0 L1333.8,560.4 L1340.1,563.4 L1341.6,587.1 L1347.9,564.1 L1352.6,571.3 L1358.8,572.7 L1362.7,579.8 L1372.9,582.9 L1378.4,588.5 L1380.7,612.0 L1385.4,616.7 L1391.7,609.6 L1396.3,624.5 L1404.2,625.9 L1408.1,621.2 L1413.5,621.2 L1418.2,627.6 L1424.5,633.9 L1431.5,634.8 L1437.0,630.7 L1442.5,618.2 L1446.4,614.2 L1450.3,619.8 L1455.0,635.4 L1455.5,634.7 L1460.5,651.0 L1465.8,671.7 L1469.7,685.1 L1475.3,699.9 L1483.0,711.7 L1490.1,711.7 L1496.0,728.0 L1502.8,739.2 L1510.2,745.7 L1516.7,754.0 L1522.1,762.0 L1526.2,773.8 L1531.2,800.5 L1535.7,827.1 L1540.1,856.7 L1544.5,886.3 L1549.0,912.9 L1553.4,942.5 L1557.6,960.3 L1562.9,972.1 L1572.4,977.2" stroke="#00f"/>
<path d="M113.4,510.7 L206.2,481.8 L260.3,456.0 L298.6,469.1 L328.3,470.2 L352.6,414.0 L371.7,371.3 L390.3,369.5 L405.6,401.3 L420.9,473.9 L433.4,442.9 L445.0,415.9 L455.8,431.7 L465.6,534.7 L474.9,522.4 L483.5,438.7 L491.4,437.9 L499.1,492.7 L506.4,646.0 L513.2,433.3 L519.7,403.5 L525.8,397.6 L532.2,397.1 L537.6,441.1 L543.0,498.9 L548.2,504.5 L553.2,389.5 L558.0,386.2 L562.7,392.6 L567.3,398.9 L571.6,423.9 L575.9,425.4 L579.9,522.4 L583.5,690.0 L587.7,386.3 L591.7,375.4 L595.3,372.1 L598.8,378.5 L602.1,402.0 L605.6,441.1 L608.1,514.6 L610.1,568.6 L613.5,561.5 L617.5,528.6 L619.8,498.9 L622.1,452.0 L624.3,402.0 L627.1,339.4 L629.8,330.7 L632.6,370.7 L635.0,433.3 L637.9,370.7 L640.6,295.5 L643.1,308.2 L645.6,370.7 L648.1,397.3 L650.4,378.5 L652.8,374.5 L655.1,374.5 L657.3,402.0 L659.7,480.2 L660.8,488.1 L661.9,464.5 L664.0,372.1 L666.2,371.5 L668.3,386.3 L670.3,409.8 L672.3,355.1 L674.4,306.6 L676.4,305.7 L678.6,421.7 L681.7,334.6 L683.3,420.9 L685.2,331.5 L688.0,330.1 L693.8,330.1 L695.2,273.6 L696.6,281.6 L699.5,339.4 L702.5,482.7 L709.5,339.4 L713.5,321.3 L721.3,468.6 L728.3,290.0 L733.0,504.5 L741.6,296.3 L746.6,455.1 L752.5,420.7 L757.2,538.9 L764.3,376.0 L775.2,386.3 L779.9,444.4 L786.9,369.8 L794.0,408.2 L799.4,411.4 L805.7,390.9 L810.4,468.6 L814.3,355.7 L829.1,542.9 L833.1,410.4 L840.9,448.9 L844.8,307.2 L851.0,333.2 L853.4,335.4 L855.7,399.0 L858.9,345.7 L862.0,362.0 L865.1,366.0 L867.5,416.2 L871.6,379.6 L877.6,368.7 L872.3,353.0 L878.3,337.4 L872.9,321.8 L879.3,306.1 L874.1,290.5 L880.4,274.8 L876.3,257.6 L879.8,240.1 L882.6,222.6 L887.4,183.2 L889.4,129.4 L891.0,82.5 L894.6,66.0 L895.7,82.5 L897.1,129.4 L898.2,160.7 L900.6,192.0 L907.4,238.9 L908.6,242.4 L914.0,251.0 L915.1,270.8 L917.3,314.4 L919.8,347.3 L922.2,354.5 L926.9,330.1 L930.8,310.7 L935.5,312.9 L938.6,317.6 L941.6,355.1 L944.7,400.6 L953.3,330.7 L959.5,431.8 L963.5,412.9 L964.7,431.7 L968.1,409.8 L969.7,413.7 L975.2,402.8 L976.3,408.2 L979.9,397.9 L981.0,452.0 L987.7,453.0 L991.6,466.1 L994.7,469.4 L998.6,412.8 L1002.5,464.5 L1008.8,465.5 L1011.1,434.7 L1015.0,479.5 L1017.4,448.9 L1019.7,475.5 L1022.9,448.9 L1026.8,473.3 L1027.6,452.0 L1029.7,409.8 L1034.4,362.9 L1036.8,339.4 L1038.0,338.8 L1038.0,376.4 L1039.0,376.6 L1039.0,340.5 L1040.0,348.8 L1040.0,376.8 L1041.0,376.9 L1041.0,350.2 L1042.0,350.8 L1042.0,377.1 L1043.0,377.4 L1043.0,351.1 L1044.0,351.2 L1044.0,378.0 L1045.0,379.2 L1045.0,351.4 L1046.0,351.6 L1046.0,380.9 L1047.0,382.7 L1047.0,351.7 L1048.0,351.7 L1048.0,384.2 L1049.0,382.7 L1049.0,351.5 L1050.0,350.8 L1050.0,381.1 L1051.0,376.1 L1051.0,349.5 L1052.0,343.1 L1052.0,364.9 L1053.0,353.7 L1053.0,332.8 L1054.0,324.0 L1054.0,342.5 L1055.0,336.0 L1055.0,319.2 L1056.0,314.4 L1056.0,335.1 L1057.0,334.7 L1057.0,309.6 L1058.0,306.7 L1058.0,334.6 L1059.0,334.7 L1059.0,305.8 L1060.0,304.9 L1060.0,335.1 L1061.0,336.0 L1061.0,304.9 L1062.0,306.2 L1062.0,339.0 L1063.0,344.6 L1063.0,315.2 L1064.0,328.7 L1064.0,350.2 L1065.0,355.8 L1065.0,342.2 L1066.0,350.2 L1066.0,360.2 L1067.0,363.7 L1067.0,353.1 L1068.0,355.9 L1068.0,367.2 L1069.0,370.7 L1069.0,358.8 L1070.0,361.6 L1070.0,374.2 L1071.0,377.7 L1071.0,364.4 L1072.0,365.8 L1072.0,379.3 L1073.0,379.8 L1073.0,366.4 L1074.0,366.7 L1074.0,380.3 L1075.0,380.8 L1075.0,366.9 L1076.0,367.2 L1076.0,381.3 L1077.0,382.0 L1077.0,367.4 L1078.0,367.7 L1078.0,383.4 L1079.0,385.4 L1079.0,367.9 L1080.0,368.2 L1080.0,386.7 L1081.0,386.5 L1081.0,368.2 L1082.0,367.9 L1082.0,386.3 L1083.0,386.1 L1083.0,367.3 L1084.0,365.9 L1084.0,385.0 L1085.0,383.8 L1085.0,360.4 L1086.0,355.4 L1086.0,383.2 L1087.0,382.9 L1087.0,354.6 L1088.0,355.6 L1088.0,382.9 L1089.0,383.2 L1089.0,356.9 L1090.0,362.9 L1090.0,383.8 L1091.0,384.9 L1091.0,368.9 L1092.0,374.9 L1092.0,387.4 L1093.0,390.7 L1093.0,380.5 L1094.0,383.7 L1094.0,394.4 L1095.0,398.7 L1095.0,386.9 L1096.0,390.1 L1096.0,402.9 L1097.0,407.2 L1097.0,392.6 L1098.0,393.4 L1098.0,411.4 L1099.0,415.7 L1099.0,393.9 L1100.0,394.0 L1100.0,419.1 L1101.0,420.3 L1101.0,393.9 L1102.0,393.4 L1102.0,421.4 L1103.0,422.5 L1103.0,392.6 L1104.0,389.6 L1104.0,421.1 L1105.0,415.1 L1105.0,377.6 L1106.0,365.6 L1106.0,409.1 L1107.0,407.3 L1107.0,364.9 L1108.0,364.4 L1108.0,406.4 L1109.0,405.9 L1109.0,363.9 L1110.0,363.6 L1110.0,405.5 L1111.0,405.0 L1111.0,363.6 L1112.0,363.6 L1112.0,404.6 L1113.0,404.1 L1113.0,363.6 L1114.0,363.6 L1114.0,398.0 L1115.0,389.4 L1115.0,363.6 L1116.0,363.6 L1116.0,384.2 L1117.0,383.3 L1117.0,363.5 L1118.0,363.3 L1118.0,382.8 L1119.0,382.7 L1119.0,362.6 L1120.0,361.2 L1120.0,382.8 L1121.0,383.3 L1121.0,354.6 L1122.0,348.8 L1122.0,384.2 L1123.0,390.3 L1123.0,350.1 L1124.0,359.2 L1124.0,401.7 L1125.0,411.4 L1125.0,372.5 L1126.0,381.9 L1126.0,412.3 L1127.0,411.6 L1127.0,383.3 L1128.0,384.3 L1128.0,410.8 L1129.0,410.1 L1129.0,385.3 L1130.0,386.3 L1130.0,409.5 L1131.0,409.2 L1131.0,387.3 L1132.0,388.3 L1132.0,409.0 L1133.0,408.8 L1133.0,389.1 L1134.0,389.6 L1134.0,408.6 L1135.0,408.4 L1135.0,389.7 L1136.0,389.6 L1136.0,408.3 L1137.0,408.1 L1137.0,389.1 L1138.0,388.4 L1138.0,406.6 L1139.0,404.2 L1139.0,387.0 L1140.0,375.0 L1140.0,401.8 L1141.0,393.7 L1141.0,363.0 L1142.0,351.0 L1142.0,379.0 L1143.0,367.3 L1143.0,339.6 L1144.0,331.1 L1144.0,365.9 L1145.0,365.3 L1145.0,322.6 L1146.0,314.5 L1146.0,365.0 L1147.0,365.0 L1147.0,313.3 L1148.0,312.1 L1148.0,365.3 L1149.0,365.9 L1149.0,310.9 L1150.0,311.8 L1150.0,367.3 L1151.0,377.3 L1151.0,317.8 L1152.0,334.5 L1152.0,387.3 L1153.0,389.6 L1153.0,351.2 L1154.0,352.6 L1154.0,389.8 L1155.0,389.5 L1155.0,353.4 L1156.0,353.8 L1156.0,389.3 L1157.0,389.0 L1157.0,354.0 L1158.0,353.8 L1158.0,388.8 L1159.0,389.0 L1159.0,353.4 L1160.0,352.9 L1160.0,389.4 L1161.0,390.3 L1161.0,354.3 L1162.0,358.9 L1162.0,396.7 L1163.0,410.7 L1163.0,369.9 L1164.0,373.2 L1164.0,423.6 L1165.0,423.9 L1165.0,374.1 L1166.0,374.8 L1166.0,415.4 L1167.0,396.4 L1167.0,375.4 L1168.0,376.0 L1168.0,393.5 L1169.0,392.6 L1169.0,376.6 L1170.0,377.6 L1170.0,392.2 L1171.0,392.0 L1171.0,380.5 L1172.0,383.3 L1172.0,392.2 L1173.0,392.5 L1173.0,386.1 L1174.0,389.0 L1174.0,392.8 L1175.0,393.1 L1175.0,390.4 L1176.0,391.1 L1176.0,393.4 L1177.0,393.7 L1177.0,391.6 L1178.0,391.7 L1178.0,394.0 L1179.0,394.3 L1179.0,391.7 L1180.0,391.7 L1180.0,394.6 L1181.0,395.0 L1181.0,391.7 L1182.0,391.7 L1182.0,395.3 L1183.0,395.7 L1183.0,391.7 L1184.0,391.7 L1184.0,396.2 L1186.0,391.0 L1186.0,397.5 L1187.0,398.0 L1187.0,390.7 L1188.0,390.7 L1188.0,398.7 L1189.0,400.0 L1189.0,391.1 L1190.0,391.5 L1190.0,406.7 L1191.0,413.4 L1191.0,392.0 L1192.0,392.4 L1192.0,415.5 L1193.0,416.3 L1193.0,392.5 L1194.0,392.4 L1194.0,416.3 L1195.0,415.9 L1195.0,391.9 L1196.0,391.0 L1196.0,415.3 L1197.0,413.0 L1197.0,388.0 L1198.0,377.0 L1198.0,411.0 L1199.0,410.1 L1199.0,372.6 L1200.0,372.5 L1200.0,409.6 L1201.0,409.4 L1201.0,376.8 L1202.0,390.8 L1202.0,409.4 L1203.0,409.5 L1203.0,395.9 L1204.0,396.8 L1204.0,409.7 L1205.0,409.9 L1205.0,397.2 L1206.0,397.4 L1206.0,410.0 L1207.0,410.3 L1207.0,397.6 L1208.0,399.6 L1208.0,410.9 L1209.0,412.3 L1209.0,403.3 L1210.0,407.1 L1210.0,415.2 L1211.0,419.2 L1211.0,413.3 L1212.0,419.8 L1212.0,423.2 L1213.0,428.9 L1213.0,426.3 L1214.0,430.9 L1214.0,435.9 L1215.0,442.9 L1215.0,434.9 L1216.0,437.7 L1216.0,447.7 L1217.0,449.7 L1217.0,438.6 L1218.0,439.2 L1218.0,451.7 L1219.0,453.3 L1219.0,439.5 L1220.0,439.5 L1220.0,453.1 L1221.0,453.1 L1221.0,439.4 L1222.0,439.8 L1222.0,453.4 L1223.0,454.0 L1223.0,441.5 L1224.0,443.2 L1224.0,455.4 L1225.0,457.9 L1225.0,444.6 L1226.0,445.7 L1226.0,460.9 L1227.0,462.3 L1227.0,446.5 L1228.0,447.0 L1228.0,463.2 L1229.0,464.1 L1229.0,447.1 L1230.0,447.0 L1230.0,465.0 L1231.0,465.4 L1231.0,446.8 L1232.0,446.1 L1232.0,464.9 L1233.0,464.4 L1233.0,445.1 L1234.0,444.1 L1234.0,464.1 L1235.0,464.1 L1235.0,445.2 L1236.0,449.4 L1236.0,464.4 L1237.0,465.0 L1237.0,452.8 L1238.0,454.2 L1238.0,466.3 L1239.0,468.6 L1239.0,454.9 L1240.0,455.1 L1240.0,471.6 L1241.0,472.7 L1241.0,455.2 L1242.0,455.2 L1242.0,473.3 L1243.0,473.8 L1243.0,455.2 L1244.0,455.2 L1244.0,474.4 L1245.0,475.1 L1245.0,455.2 L1246.0,459.4 L1246.0,476.4 L1247.0,485.1 L1247.0,468.8 L1248.0,475.5 L1248.0,491.3 L1249.0,493.3 L1249.0,477.5 L1251.0,481.3 L1251.0,497.7 L1252.0,497.1 L1252.0,481.7 L1253.0,482.1 L1253.0,496.5 L1254.0,496.0 L1254.0,482.8 L1255.0,483.8 L1255.0,495.7 L1256.0,495.7 L1256.0,484.8 L1257.0,485.8 L1257.0,496.0 L1258.0,496.6 L1258.0,488.0 L1259.0,490.3 L1259.0,498.0 L1260.0,504.9 L1260.0,491.7 L1261.0,492.5 L1261.0,509.0 L1262.0,509.2 L1262.0,493.0 L1263.0,493.2 L1263.0,509.5 L1264.0,509.7 L1264.0,493.3 L1265.0,494.4 L1265.0,510.1 L1266.0,510.8 L1266.0,496.9 L1267.0,499.3 L1267.0,512.2 L1268.0,515.8 L1268.0,500.7 L1269.0,501.3 L1269.0,519.4 L1270.0,523.0 L1270.0,501.6 L1271.0,501.6 L1271.0,525.9 L1272.0,527.1 L1272.0,501.4 L1273.0,501.1 L1273.0,526.8 L1274.0,523.8 L1274.0,500.8 L1275.0,500.5 L1275.0,519.8 L1276.0,518.4 L1276.0,501.3 L1277.0,502.1 L1277.0,517.8 L1278.0,517.5 L1278.0,502.9 L1279.0,503.6 L1279.0,517.5 L1280.0,517.5 L1280.0,503.9 L1281.0,504.1 L1281.0,517.5 L1282.0,517.5 L1282.0,504.2 L1283.0,504.4 L1283.0,517.6 L1284.0,518.1 L1284.0,505.2 L1285.0,507.2 L1285.0,519.0 L1286.0,522.7 L1286.0,512.2 L1287.0,526.2 L1287.0,532.7 L1288.0,536.8 L1288.0,531.6 L1289.0,532.5 L1289.0,538.6 L1290.0,540.4 L1290.0,533.1 L1291.0,533.8 L1291.0,541.6 L1292.0,542.1 L1292.0,534.2 L1293.0,534.4 L1293.0,541.1 L1294.0,540.1 L1294.0,534.2 L1295.0,534.0 L1295.0,539.2 L1296.0,538.8 L1296.0,533.4 L1297.0,532.8 L1297.0,538.7 L1298.0,538.8 L1298.0,532.1 L1299.0,531.8 L1299.0,539.2 L1300.0,539.9 L1300.0,532.4 L1301.0,533.3 L1301.0,540.7 L1302.0,541.6 L1302.0,534.8 L1303.0,536.3 L1303.0,542.4 L1304.0,543.2 L1304.0,537.4 L1305.0,538.1 L1305.0,544.0 L1306.0,544.8 L1306.0,538.3 L1307.0,538.3 L1307.0,545.6 L1308.0,546.4 L1308.0,538.1 L1309.0,537.6 L1309.0,547.1 L1310.0,547.9 L1310.0,537.1 L1311.0,537.0 L1311.0,548.7 L1312.0,550.1 L1312.0,540.8 L1313.0,549.4 L1313.0,553.4 L1314.0,557.7 L1314.0,557.2 L1315.0,558.6 L1315.0,559.5 L1316.0,560.0 L1316.0,559.2 L1317.0,559.5 L1317.0,560.4 L1318.0,560.8 L1318.0,559.8 L1319.0,560.0 L1319.0,561.3 L1320.0,561.8 L1320.0,560.2 L1321.0,560.2 L1321.0,562.6 L1322.0,563.8 L1322.0,560.0 L1323.0,559.4 L1323.0,565.0 L1324.0,565.8 L1324.0,558.7 L1325.0,558.1 L1325.0,566.1 L1326.0,566.4 L1326.0,558.4 L1327.0,559.1 L1327.0,566.7 L1328.0,567.0 L1328.0,560.8 L1329.0,562.6 L1329.0,567.5 L1330.0,568.4 L1330.0,564.4 L1331.0,566.0 L1331.0,569.4 L1332.0,570.4 L1332.0,567.1 L1333.0,568.1 L1333.0,571.4 L1334.0,571.9 L1334.0,569.1 L1335.0,570.1 L1335.0,572.4 L1336.0,573.0 L1336.0,571.4 L1337.0,573.0 L1337.0,574.2 L1338.0,576.3 L1338.0,574.7 L1339.0,576.4 L1339.0,578.9 L1340.0,581.5 L1340.0,578.0 L1341.0,578.9 L1341.0,584.1 L1342.0,585.1 L1342.0,579.4 L1343.0,579.6 L1343.0,585.6 L1344.0,585.3 L1344.0,579.6 L1345.0,579.3 L1345.0,585.0 L1346.0,584.8 L1346.0,578.7 L1347.0,578.1 L1347.0,585.0 L1348.0,585.4 L1348.0,577.5 L1349.0,576.9 L1349.0,586.0 L1350.0,587.4 L1350.0,577.5 L1351.0,578.4 L1351.0,589.4 L1352.0,591.4 L1352.0,579.5 L1353.0,580.8 L1353.0,592.5 L1354.0,593.1 L1354.0,582.0 L1355.0,582.6 L1355.0,593.1 L1356.0,593.0 L1356.0,582.9 L1357.0,582.9 L1357.0,592.9 L1358.0,592.8 L1358.0,582.8 L1359.0,582.7 L1359.0,592.7 L1360.0,592.6 L1360.0,582.6 L1361.0,582.5 L1361.0,592.7 L1362.0,593.0 L1362.0,582.4 L1363.0,582.2 L1363.0,593.6 L1364.0,594.8 L1364.0,582.3 L1365.0,582.5 L1365.0,596.0 L1366.0,597.2 L1366.0,582.6 L1367.0,582.8 L1367.0,598.4 L1368.0,599.8 L1368.0,583.0 L1369.0,583.1 L1369.0,601.3 L1370.0,602.5 L1370.0,583.3 L1371.0,583.5 L1371.0,602.8 L1372.0,603.1 L1372.0,584.1 L1373.0,585.0 L1373.0,603.4 L1374.0,603.7 L1374.0,585.8 L1375.0,589.6 L1375.0,604.1 L1376.0,604.8 L1376.0,594.3 L1377.0,597.2 L1377.0,605.5 L1378.0,606.1 L1378.0,598.1 L1379.0,598.9 L1379.0,606.8 L1380.0,607.5 L1380.0,599.7 L1381.0,601.2 L1381.0,608.1 L1382.0,608.8 L1382.0,604.0 L1383.0,606.8 L1383.0,609.8 L1384.0,611.9 L1384.0,609.6 L1385.0,611.1 L1385.0,614.3 L1386.0,616.7 L1386.0,612.0 L1387.0,612.4 L1387.0,619.0 L1388.0,619.8 L1388.0,612.5 L1389.0,612.4 L1389.0,620.1 L1390.0,619.7 L1390.0,612.0 L1391.0,611.6 L1391.0,619.4 L1392.0,619.3 L1392.0,611.1 L1393.0,610.7 L1393.0,619.3 L1394.0,619.6 L1394.0,610.2 L1395.0,610.4 L1395.0,620.2 L1396.0,621.6 L1396.0,611.1 L1397.0,614.4 L1397.0,623.6 L1398.0,625.6 L1398.0,618.4 L1399.0,622.4 L1399.0,627.4 L1400.0,629.1 L1400.0,623.8 L1401.0,624.6 L1401.0,629.9 L1402.0,630.2 L1402.0,625.1 L1403.0,625.2 L1403.0,630.4 L1404.0,630.2 L1404.0,625.3 L1405.0,625.4 L1405.0,629.5 L1406.0,628.9 L1406.0,625.5 L1407.0,625.6 L1407.0,628.3 L1408.0,628.0 L1408.0,625.7 L1409.0,625.8 L1409.0,627.8 L1410.0,628.0 L1410.0,626.4 L1411.0,627.1 L1411.0,628.4 L1412.0,629.1 L1412.0,627.8 L1413.0,628.5 L1413.0,629.9 L1414.0,630.6 L1414.0,629.3 L1415.0,630.1 L1415.0,631.6 L1416.0,633.5 L1416.0,631.0 L1417.0,631.8 L1417.0,635.7 L1418.0,637.9 L1418.0,632.4 L1419.0,632.7 L1419.0,640.1 L1420.0,639.8 L1420.0,632.7 L1421.0,632.4 L1421.0,638.5 L1422.0,637.0 L1422.0,631.9 L1423.0,631.0 L1423.0,635.5 L1424.0,634.0 L1424.0,629.0 L1425.0,626.6 L1425.0,632.6 L1426.0,631.2 L1426.0,624.2 L1427.0,622.3 L1427.0,629.8 L1428.0,628.4 L1428.0,621.7 L1429.0,621.2 L1429.0,627.0 L1430.0,625.6 L1430.0,620.6 L1431.0,620.0 L1431.0,624.2 L1432.0,622.8 L1432.0,619.1 L1433.0,617.8 L1433.0,620.9 L1434.0,618.9 L1434.0,616.3 L1435.0,614.9 L1435.0,616.9 L1436.0,614.9 L1436.0,614.4 L1437.0,613.4 L1438.0,611.9 L1439.0,610.4 L1440.0,607.6 L1441.0,603.6 L1441.0,605.8 L1442.0,604.1 L1442.0,599.6 L1443.0,595.6 L1443.0,602.5 L1444.0,601.5 L1444.0,591.6 L1445.0,588.0 L1445.0,600.9 L1446.0,600.6 L1446.0,584.7 L1447.0,584.7 L1447.0,600.6 L1448.0,600.9 L1448.0,589.0 L1449.0,593.3 L1449.0,601.5 L1450.0,602.9 L1450.0,597.7 L1451.0,602.0 L1451.0,604.9 L1452.0,606.9 L1452.0,605.0 L1453.0,606.7 L1453.0,608.9 L1454.0,611.1 L1454.0,608.5 L1455.0,610.2 L1455.0,614.0 L1456.0,616.8 L1456.0,612.0 L1457.0,613.7 L1457.0,619.7 L1458.0,622.5 L1458.0,616.0 L1459.0,619.6 L1459.0,625.4 L1460.0,628.9 L1460.0,623.2 L1461.0,626.8 L1461.0,632.7 L1462.0,636.4 L1462.0,630.4 L1463.0,634.1 L1463.0,640.2 L1464.0,643.9 L1464.0,637.7 L1467.3,639.2 L1471.7,656.9 L1476.2,677.7 L1482.1,692.5 L1488.0,701.3 L1493.9,699.9 L1499.9,710.2 L1504.3,722.1 L1510.2,730.9 L1516.1,739.8 L1520.6,751.6 L1525.0,754.6 L1528.0,772.4 L1532.4,799.0 L1536.9,825.6 L1541.3,855.2 L1545.7,884.8 L1550.2,911.5 L1554.6,941.1 L1559.0,955.9 L1565.0,963.2 L1573.8,969.2" stroke="#0f0"/>
<path d="M895.5,1090.5 V41.4" stroke="#4d4d4d" stroke-width="9.5" stroke-dasharray="25.4 25.35"/>
</g>
<text transform="translate(163.8,1109.2) scale(1,1.045)" font-size="51.2" text-anchor="end" fill="#262626">-30</text>
<text transform="translate(163.8,978.1) scale(1,1.045)" font-size="51.2" text-anchor="end" fill="#262626">-20</text>
<text transform="translate(163.8,846.9) scale(1,1.045)" font-size="51.2" text-anchor="end" fill="#262626">-10</text>
<text transform="translate(163.8,715.8) scale(1,1.045)" font-size="51.2" text-anchor="end" fill="#262626">0</text>
<text transform="translate(163.8,584.7) scale(1,1.045)" font-size="51.2" text-anchor="end" fill="#262626">10</text>
<text transform="translate(163.8,453.5) scale(1,1.045)" font-size="51.2" text-anchor="end" fill="#262626">20</text>
<text transform="translate(163.8,322.4) scale(1,1.045)" font-size="51.2" text-anchor="end" fill="#262626">30</text>
<text transform="translate(163.8,191.3) scale(1,1.045)" font-size="51.2" text-anchor="end" fill="#262626">40</text>
<text transform="translate(163.8,60.2) scale(1,1.045)" font-size="51.2" text-anchor="end" fill="#262626">50</text>
<text transform="translate(447.5,1172) scale(1,1.045)" font-size="51.2" text-anchor="start" fill="#262626">10<tspan x="66.0" dy="-23.73" font-size="41.3">-2</tspan></text>
<text transform="translate(1067.3,1172) scale(1,1.045)" font-size="51.2" text-anchor="start" fill="#262626">10<tspan x="66.7" dy="-23.73" font-size="41.3">0</tspan></text>
<text transform="translate(808.5,1236.5) scale(1,1.045)" font-size="51.2" text-anchor="start" fill="#262626">fD/U<tspan x="113.8" dy="23.25" font-size="41.3">0</tspan></text>
<text transform="translate(64.8,672.5) rotate(-90) scale(1,1.045)" font-size="51.2" text-anchor="start" fill="#262626">SPL [dB]</text>
<rect x="226" y="771.9" width="419" height="285" fill="#262626"/><rect x="230" y="774.9" width="411" height="279.1" fill="#fff"/>
<path d="M240,809 H368.2" stroke="#f00" stroke-width="10"/>
<path d="M240,870.7 H368.2" stroke="#00f" stroke-width="10"/>
<path d="M240,932 H368.2" stroke="#0f0" stroke-width="10"/>
<path d="M240,1006 H368.2" stroke="#4d4d4d" stroke-width="10" stroke-dasharray="25.6 25.6"/>
<text transform="translate(376.3,826.9) scale(1,1.045)" font-size="51.2" text-anchor="start" fill="#000">M = 0.5</text>
<text transform="translate(376.3,887.9) scale(1,1.045)" font-size="51.2" text-anchor="start" fill="#000">Thickness</text>
<text transform="translate(376.3,950.0) scale(1,1.045)" font-size="51.2" text-anchor="start" fill="#000">Loading</text>
<text transform="translate(376.3,1014.0) scale(1,1.045)" font-size="51.2" text-anchor="start" fill="#000">St<tspan x="55.5" dy="23.54" font-size="41.3">VS</tspan></text>
<text transform="translate(767.5,1381.6) scale(1,1.07)" font-size="72" fill="#000" style="font-family:'Liberation Serif','DejaVu Serif',serif">(<tspan font-weight="bold">a</tspan>)</text>
</svg></body></html>
